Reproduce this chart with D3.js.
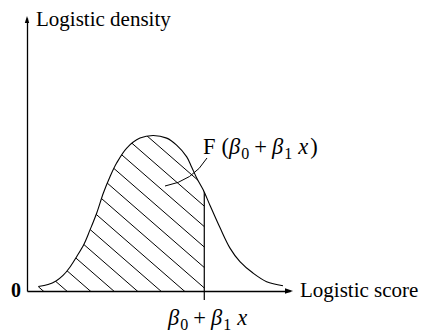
<!DOCTYPE html>
<html><head><meta charset="utf-8">
<script src="https://cdn.jsdelivr.net/npm/d3@7"></script>
<style>body{margin:0;background:#fff} svg{display:block}</style>
</head><body>
<script>
// Values
const score   = [-5.92, -5.42, -5.01, -4.65, -4.29, -3.93, -3.57, -3.27, -2.92, -2.58, -2.24, -1.90, -1.38, -0.70, -0.03, 0.67, 1.18, 1.70, 1.95, 2.21, 2.55, 2.89, 3.41, 3.92, 4.43, 5.10, 5.80, 6.64];
const density = [0.0058, 0.0083, 0.0128, 0.0199, 0.0308, 0.0449, 0.0603, 0.078, 0.100, 0.1256, 0.1465, 0.164, 0.1833, 0.196, 0.1994, 0.196, 0.187, 0.172, 0.159, 0.145, 0.1295, 0.110, 0.081, 0.055, 0.0376, 0.023, 0.012, 0.0068];
const cutScore = 2.6;
const xLabel = "Logistic score";
const yLabel = "Logistic density";
const zeroLabel = "0";

const W = 423, H = 333;
const FONT = "'Times New Roman', 'Liberation Serif', serif";
const svg = d3.select("body").append("svg").attr("width", W).attr("height", H);

const x = d3.scaleLinear().domain([-6.5, 7]).range([27, 290]);
const y = d3.scaleLinear().domain([0, 0.35]).range([291, 18]);

const pts = score.map((s, i) => [s, density[i]]);
const lineGen = d3.line().x(d => x(d[0])).y(d => y(d[1])).curve(d3.curveCatmullRom.alpha(0.5));
const areaGen = d3.area().x(d => x(d[0])).y0(y(0)).y1(d => y(d[1])).curve(d3.curveCatmullRom.alpha(0.5));

const defs = svg.append("defs");
defs.append("clipPath").attr("id", "areaClip").append("path").attr("d", areaGen(pts));
defs.append("clipPath").attr("id", "leftClip").append("rect")
  .attr("x", 0).attr("y", 0).attr("width", x(cutScore)).attr("height", y(0));
const cutClip = defs.append("clipPath").attr("id", "cutClip");
cutClip.append("path").attr("d", areaGen(pts));
cutClip.append("rect").attr("x", 0).attr("y", y(0)).attr("width", W).attr("height", 20);

// hatching
const xc = x(cutScore), ya = y(0);
const slope = 0.87, spacing = 23.5;
const hatchG = svg.append("g").attr("clip-path", "url(#leftClip)")
  .append("g").attr("clip-path", "url(#areaClip)");
const ks = d3.range(-10, 10);
hatchG.selectAll("line").data(ks).join("line")
  .attr("x1", k => xc - 20 + k * spacing - 320)
  .attr("y1", ya - 320 * slope)
  .attr("x2", k => xc - 20 + k * spacing + 100)
  .attr("y2", ya + 100 * slope)
  .attr("stroke", "#000").attr("stroke-width", 1);

// curve
svg.append("path").attr("d", lineGen(pts)).attr("fill", "none")
  .attr("stroke", "#000").attr("stroke-width", 1.1);

// cut line
svg.append("g").attr("clip-path", "url(#cutClip)").append("line")
  .attr("x1", xc).attr("x2", xc).attr("y1", y(0.3)).attr("y2", ya + 9)
  .attr("stroke", "#000").attr("stroke-width", 1.2);

// axes
svg.append("g").attr("transform", `translate(0,${ya})`)
  .call(d3.axisBottom(x).tickValues([]).tickSizeOuter(0));
svg.append("g").attr("transform", `translate(${x(-6.5)},0)`)
  .call(d3.axisLeft(y).tickValues([]).tickSizeOuter(0));
svg.selectAll(".domain").attr("stroke", "#000").attr("stroke-width", 1.3);

// arrowheads
const xe = x(7), yt = y(0.35);
svg.append("path").attr("d", `M${xe + 3},${ya} L${xe - 5},${ya - 2.8} L${xe - 5},${ya + 2.8} Z`).attr("fill", "#000");
svg.append("path").attr("d", `M${x(-6.5)},${yt - 2} L${x(-6.5) - 2.2},${yt + 5} L${x(-6.5) + 2.2},${yt + 5} Z`).attr("fill", "#000");

// labels
svg.append("text").attr("x", 36).attr("y", 26).attr("font-family", FONT).attr("font-size", 21).text(yLabel);
svg.append("text").attr("x", 300).attr("y", 297).attr("font-family", FONT).attr("font-size", 21).text(xLabel);
svg.append("text").attr("x", 11).attr("y", 297).attr("font-family", FONT).attr("font-size", 20).attr("font-weight", "bold").text(zeroLabel);

function betaExpr(t) {
  const add = (txt, opts = {}) => {
    const s = t.append("tspan").text(txt);
    if (opts.italic) s.attr("font-style", "italic");
    if (opts.size) s.attr("font-size", opts.size);
    if (opts.dx != null) s.attr("dx", opts.dx);
    if (opts.dy != null) s.attr("dy", opts.dy);
    return s;
  };
  add("β", {italic: true});
  add("0", {size: 16, dy: 5, dx: 1});
  add("+", {dy: -5, dx: 5});
  add("β", {italic: true, dx: 5});
  add("1", {size: 16, dy: 5, dx: 1});
  add("x", {italic: true, dy: -5, dx: 6});
}

const topLabel = svg.append("text").attr("x", 203).attr("y", 154).attr("font-family", FONT).attr("font-size", 22.5);
topLabel.append("tspan").text("F");
topLabel.append("tspan").attr("dx", 6).text("(");
betaExpr(topLabel);
topLabel.append("tspan").attr("dx", 2).text(")");

const botLabel = svg.append("text").attr("x", 168).attr("y", 325).attr("font-family", FONT).attr("font-size", 22.5);
betaExpr(botLabel);

// leader line
svg.append("path").attr("d", "M165,186 Q193,181 207,158").attr("fill", "none")
  .attr("stroke", "#000").attr("stroke-width", 1);
</script>
</body></html>
